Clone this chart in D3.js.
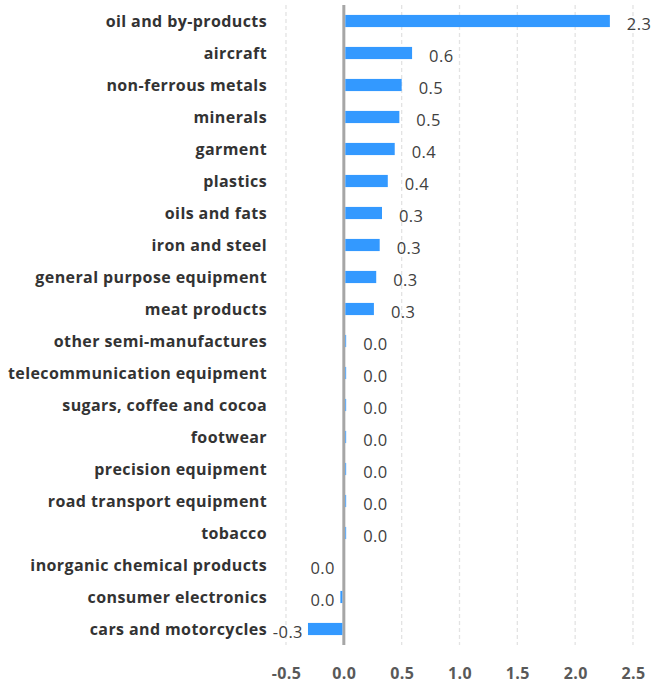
<!DOCTYPE html>
<html>
<head>
<meta charset="utf-8">
<script src="https://cdn.jsdelivr.net/npm/d3@7"></script>
<style>
  body { margin: 0; background: #fff; }
  svg { display: block; }
</style>
</head>
<body>
<div id="barchart"></div>
<script>
// categories top to bottom
const categories = [
  "oil and by-products", "aircraft", "non-ferrous metals", "minerals", "garment",
  "plastics", "oils and fats", "iron and steel", "general purpose equipment", "meat products",
  "other semi-manufactures", "telecommunication equipment", "sugars, coffee and cocoa", "footwear",
  "precision equipment", "road transport equipment", "tobacco", "inorganic chemical products",
  "consumer electronics", "cars and motorcycles"
];
const values = [
  2.30, 0.59, 0.50, 0.48, 0.44,
  0.38, 0.33, 0.31, 0.28, 0.26,
  0.02, 0.02, 0.02, 0.02,
  0.02, 0.02, 0.02, -0.01,
  -0.03, -0.31
];
const tickValues = [-0.5, 0, 0.5, 1.0, 1.5, 2.0, 2.5];

const data = categories.map((c, i) => ({ cat: c, val: values[i] }));

const width = 652, height = 686;
const margin = { top: 5, right: 19, bottom: 40, left: 286 };
const font = "'Open Sans', Lato, sans-serif";

const svg = d3.select("#barchart")
  .append("svg")
  .attr("width", width)
  .attr("height", height);

const xScale = d3.scaleLinear()
  .domain([-0.5, 2.5])
  .range([margin.left, width - margin.right]);

const yScale = d3.scaleBand()
  .domain(categories)
  .range([margin.top, height - margin.bottom - 1])
  .paddingInner(0.62)
  .paddingOuter(0.31);

const fmt = v => {
  let s = d3.format(".1f")(v).replace("−", "-");
  if (s === "-0.0") s = "0.0";
  return s;
};

// dashed gridlines
svg.append("g")
  .selectAll("line")
  .data(tickValues.filter(t => t !== 0))
  .join("line")
  .attr("x1", d => xScale(d)).attr("x2", d => xScale(d))
  .attr("y1", margin.top).attr("y2", height - margin.bottom - 1)
  .attr("stroke", "#e3e3e3")
  .attr("stroke-width", 1.3)
  .attr("stroke-dasharray", "4,3");

// zero axis
svg.append("line")
  .attr("x1", xScale(0)).attr("x2", xScale(0))
  .attr("y1", margin.top).attr("y2", height - margin.bottom - 1)
  .attr("stroke", "#a6a6a6")
  .attr("stroke-width", 3);

// bars
svg.append("g")
  .selectAll("rect")
  .data(data)
  .join("rect")
  .attr("x", d => d.val >= 0 ? xScale(0) + 1.5 : xScale(d.val))
  .attr("y", d => yScale(d.cat))
  .attr("width", d => Math.max(0, Math.abs(xScale(d.val) - xScale(0)) - 1.5))
  .attr("height", yScale.bandwidth())
  .attr("fill", "#3399ff");

// value labels
svg.append("g")
  .selectAll("text")
  .data(data)
  .join("text")
  .attr("x", d => d.val >= 0 ? xScale(d.val) + 17 : Math.min(xScale(d.val), xScale(0) - 4) - 5)
  .attr("y", d => yScale(d.cat) + yScale.bandwidth() / 2 + 2)
  .attr("text-anchor", d => d.val >= 0 ? "start" : "end")
  .attr("dominant-baseline", "central")
  .attr("font-family", font)
  .attr("font-size", 16.5)
  .attr("letter-spacing", 0.4)
  .attr("fill", "#404040")
  .text(d => fmt(d.val));

// category labels
svg.append("g")
  .selectAll("text")
  .data(data)
  .join("text")
  .attr("x", 267)
  .attr("y", d => yScale(d.cat) + yScale.bandwidth() / 2)
  .attr("text-anchor", "end")
  .attr("dominant-baseline", "central")
  .attr("font-family", font)
  .attr("font-weight", "bold")
  .attr("font-size", 16)
  .attr("letter-spacing", 0.4)
  .attr("fill", "#333")
  .text(d => d.cat);

// x axis tick labels
const xAxis = d3.axisBottom(xScale)
  .tickValues(tickValues)
  .tickSize(0)
  .tickFormat(fmt);

const gx = svg.append("g")
  .attr("transform", `translate(0,${height - 13})`)
  .call(xAxis);
gx.select(".domain").remove();
gx.selectAll("text")
  .attr("y", 0)
  .attr("dy", 0)
  .attr("dominant-baseline", "central")
  .attr("font-family", font)
  .attr("font-weight", "bold")
  .attr("font-size", 16)
  .attr("letter-spacing", 0.4)
  .attr("fill", "#595959");
</script>
</body>
</html>
